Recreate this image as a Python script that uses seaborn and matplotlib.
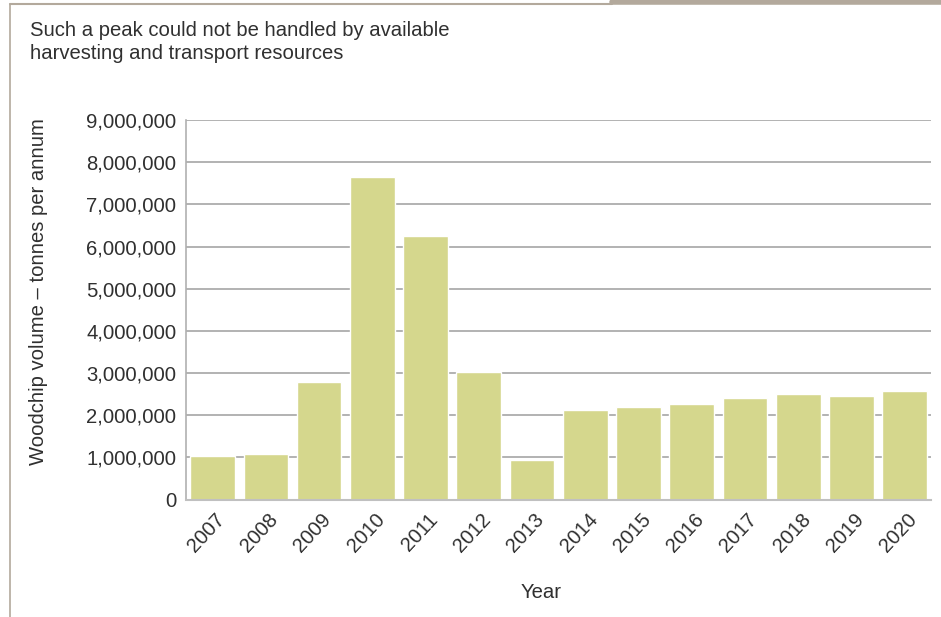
import matplotlib
matplotlib.use("Agg")
import matplotlib.pyplot as plt
import matplotlib.ticker as mticker
import matplotlib.transforms as mtransforms
import seaborn as sns
import pandas as pd

# Values (tonnes per annum)
years = ["2007", "2008", "2009", "2010", "2011", "2012", "2013",
         "2014", "2015", "2016", "2017", "2018", "2019", "2020"]
volumes = [1030000, 1080000, 2790000, 7650000, 6250000, 3020000, 940000,
           2120000, 2190000, 2270000, 2410000, 2500000, 2460000, 2570000]

title_text = "Such a peak could not be handled by available\nharvesting and transport resources"
y_label = "Woodchip volume \u2013 tonnes per annum"
x_label = "Year"

df = pd.DataFrame({"year": years, "volume": volumes})

sns.set_theme(style="white")
plt.rcParams["font.family"] = ["Liberation Sans", "DejaVu Sans"]

bar_color = "#d5d78d"
grid_color = "#a6a6a6"
frame_color = "#b3a99c"
text_color = "#303030"
fs = 14.6

fig = plt.figure(figsize=(9.41, 6.17), dpi=100)
ax = fig.add_axes([0.1977, 0.1904, 0.792, 0.6151])

sns.barplot(data=df, x="year", y="volume", color=bar_color, saturation=1,
            width=0.84, ax=ax)

ax.set_ylim(0, 9000000)
ax.set_xlim(-0.5, len(years) - 0.5)
ax.yaxis.set_major_locator(mticker.MultipleLocator(1000000))
ax.yaxis.set_major_formatter(mticker.FuncFormatter(lambda v, p: f"{int(v):,}"))
ax.grid(axis="y", color=grid_color, lw=1.2)
ax.set_axisbelow(True)

for s in ["top", "right"]:
    ax.spines[s].set_visible(False)
ax.spines["left"].set_color("#b0b0b0")
ax.spines["bottom"].set_color("#c0c0c0")
ax.spines["left"].set_linewidth(1.2)
ax.spines["bottom"].set_linewidth(1.5)

ax.tick_params(axis="y", length=0, labelsize=fs, colors=text_color, pad=7)
ax.tick_params(axis="x", length=0, labelsize=fs, colors=text_color, pad=12)
shift = mtransforms.ScaledTranslation(9 / 100, 0, fig.dpi_scale_trans)
for lbl in ax.get_xticklabels():
    lbl.set_rotation(47)
    lbl.set_ha("right")
    lbl.set_va("center")
    lbl.set_rotation_mode("anchor")
    lbl.set_transform(lbl.get_transform() + shift)

ax.set_xlabel(x_label, fontsize=fs, color=text_color)
ax.xaxis.set_label_coords(0.476, -0.221)
ax.set_ylabel("")
fig.text(0.041, 0.528, y_label, rotation=90, fontsize=fs, color=text_color,
         ha="center", va="center")

fig.text(0.032, 0.966, title_text, fontsize=fs, color=text_color,
         ha="left", va="top", linespacing=1.25)

# outer frame of the original figure panel
fig.add_artist(plt.Line2D([0.0106, 0.0106], [0.0, 0.993], transform=fig.transFigure,
                          color=frame_color, lw=1.2))
fig.add_artist(plt.Line2D([0.0106, 0.65], [0.993, 0.993], transform=fig.transFigure,
                          color=frame_color, lw=1.5))
fig.add_artist(plt.Line2D([0.65, 1.0], [0.996, 0.996], transform=fig.transFigure,
                          color=frame_color, lw=4))

fig.savefig("out.png", dpi=100)
